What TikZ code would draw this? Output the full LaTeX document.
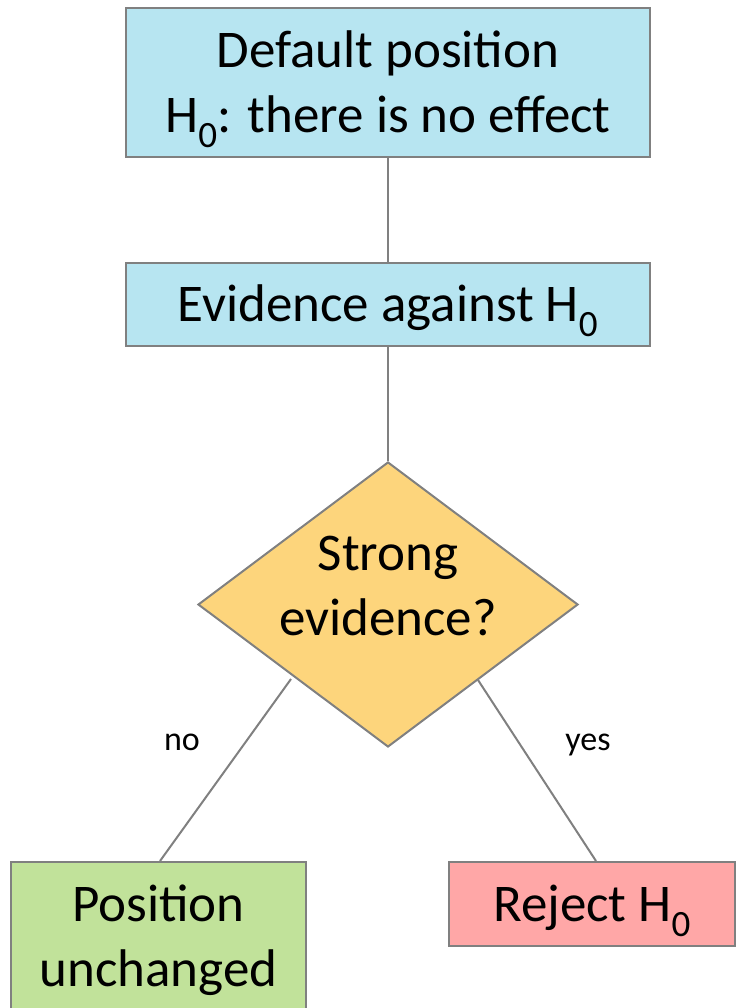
\documentclass[tikz,border=0pt]{standalone}
\usepackage{fontspec}
\setmainfont{Carlito}
\usetikzlibrary{shapes.geometric}
\definecolor{boxblue}{RGB}{183,229,241}
\definecolor{dyellow}{RGB}{253,213,124}
\definecolor{bgreen}{RGB}{193,226,154}
\definecolor{bred}{RGB}{255,167,167}
\definecolor{edgegray}{RGB}{128,128,128}
\newcommand{\subz}{\textsubscript{0}}
\begin{document}
\begin{tikzpicture}[x=1pt,y=-1pt,
  shapebox/.style={draw=edgegray,line width=2pt,inner sep=0pt,align=center,
    font=\fontsize{53}{65}\selectfont},
  oneline/.style={text height=34pt,text depth=0pt},
  twoline/.style={text height=99pt,text depth=0pt},
  conn/.style={draw=edgegray,line width=2pt},
  lbl/.style={inner sep=0pt,anchor=base,font=\fontsize{34}{40}\selectfont}]
\useasboundingbox (0,0) rectangle (736,1008);
\node[shapebox,twoline,fill=boxblue,minimum width=524,minimum height=148.5] (def) at (388,82.75)
  {Default position\\H\subz: there is no effect};
\node[shapebox,oneline,fill=boxblue,minimum width=524,minimum height=83.5] (ev) at (388,304.25)
  {Evidence against H\subz};
\node[shapebox,diamond,shape aspect=1.333,text height=80pt,text depth=19pt,
  fill=dyellow,minimum width=380,minimum height=285] (dia) at (388,604.5)
  {Strong\\evidence?};
\node[shapebox,twoline,fill=bgreen,minimum width=295,minimum height=150] (pos) at (158.5,937)
  {Position\\unchanged};
\node[shapebox,oneline,fill=bred,minimum width=286,minimum height=84] (rej) at (592,904)
  {Reject H\subz};
\coordinate (nostart) at (291,679);
\coordinate (yesstart) at (478,680);
\draw[conn] (def) -- (ev);
\draw[conn] (ev) -- (dia);
\draw[conn] (nostart) -- ([xshift=1.5pt]pos.north);
\draw[conn] (yesstart) -- ([xshift=4pt]rej.north);
\node[lbl] (no) at (182,750) {no};
\node[lbl] (yes) at (588,750) {yes};
\end{tikzpicture}
\end{document}
